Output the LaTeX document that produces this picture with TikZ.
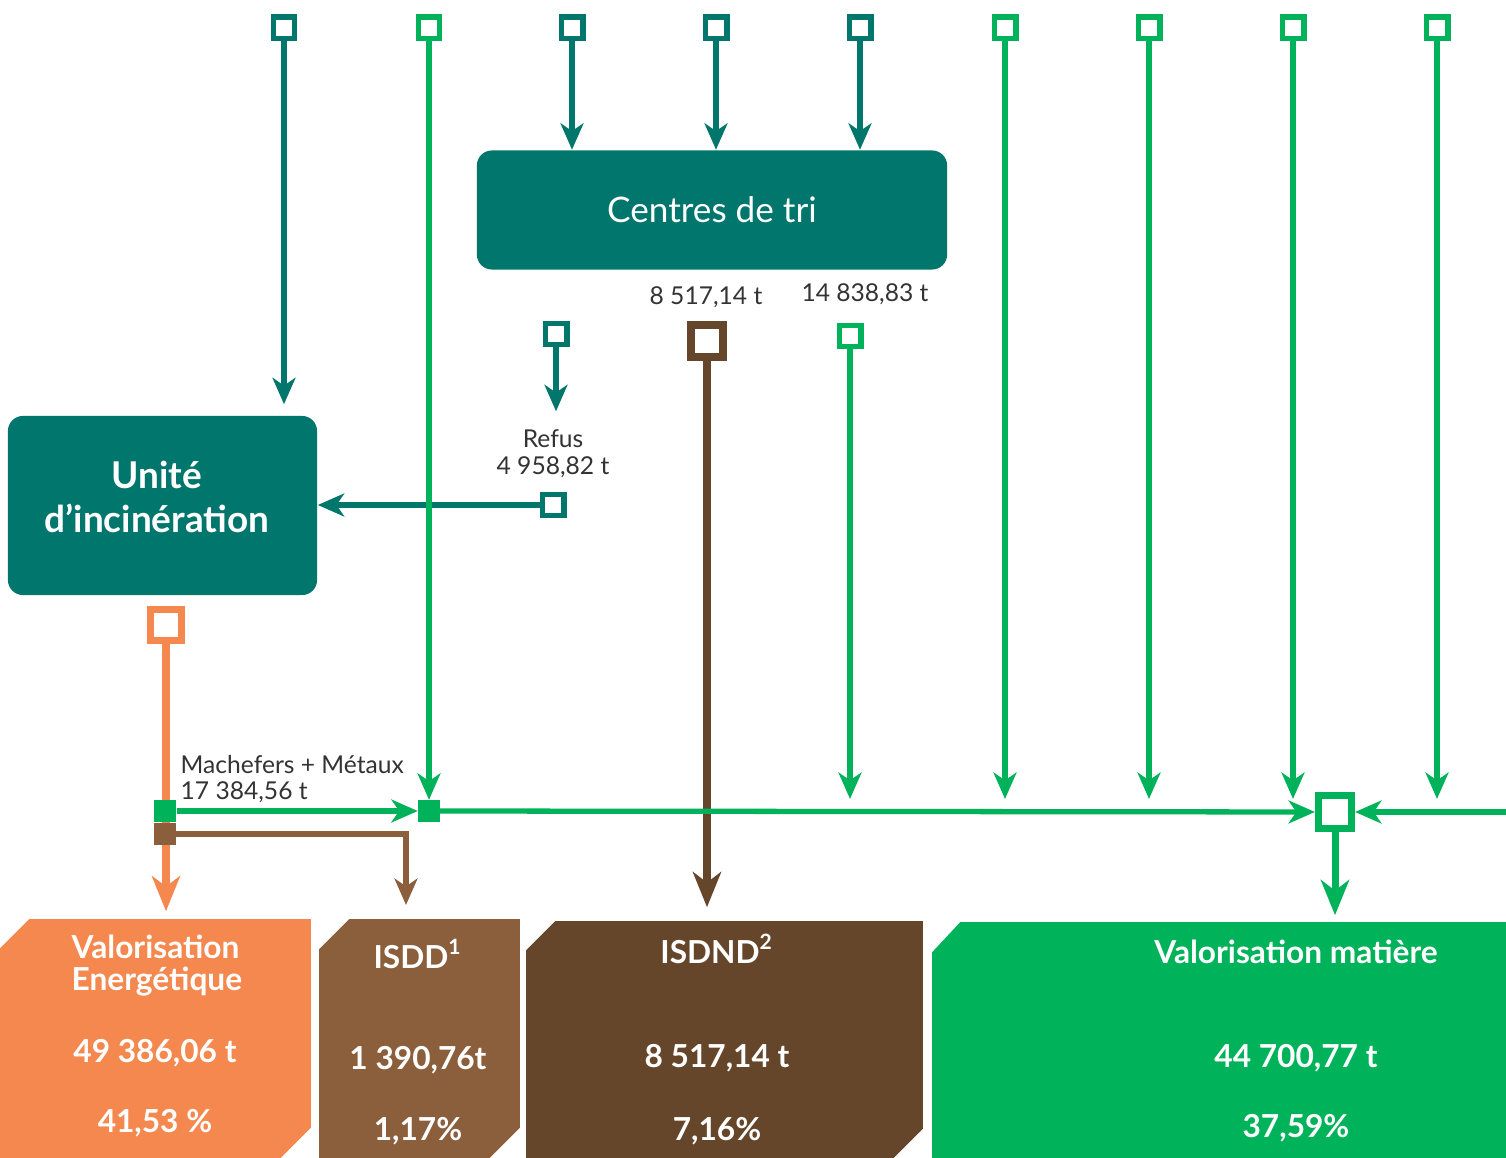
\documentclass[tikz,border=0pt]{standalone}
\usepackage{fontspec}
\setmainfont{Lato}
\usetikzlibrary{arrows.meta}
\definecolor{vert}{RGB}{0,178,89}
\definecolor{canard}{RGB}{0,118,108}
\definecolor{orange}{RGB}{244,136,79}
\definecolor{brunclair}{RGB}{139,94,60}
\definecolor{brunfonce}{RGB}{102,70,42}
\definecolor{gristexte}{RGB}{51,51,51}
% boite a coins coupes (haut gauche, bas droite)
\newcommand*\chanfrein[3]{
	\fill[#2] ([xshift=#3]#1.north west) -- (#1.north east) -- ([yshift=#3]#1.south east)
		-- ([xshift=-#3]#1.south east) -- (#1.south west) -- ([yshift=-#3]#1.north west) -- cycle;}

\begin{document}
\begin{tikzpicture}[x=0.01cm, y=-0.01cm,
		carre/.style={draw=#1, fill=white, minimum size=0.217cm, inner sep=0pt, line width=1.5pt},
		grandcarre/.style={draw=#1, fill=white, minimum size=0.32cm, inner sep=0pt, line width=2.3pt},
		plein/.style={fill=#1, inner sep=0pt, minimum size=0.21cm},
		flux/.style={line width=1.5pt, -{Stealth[length=7.5pt, width=6.5pt, inset=2.2pt]}},
		grosflux/.style={line width=2.2pt, -{Stealth[length=10pt, width=8pt, inset=3pt]}},
		site/.style={rounded corners=0.15cm, fill=canard, inner sep=0pt},
		filiere/.style={inner sep=0pt},
		etiq/.style={text=gristexte, font=\fontsize{7}{8}\selectfont, inner sep=0pt},
		titre/.style={text=white, font=\bfseries\fontsize{9}{11}\selectfont, inner sep=0pt}]
	\useasboundingbox (0,0) rectangle (1506,1158);
	% sites de traitement
	\node[site, minimum width=4.7cm, minimum height=1.19cm, text=white, font=\fontsize{10}{12}\selectfont]
		(tri) at (712,210) {Centres de tri};
	\node[site, minimum width=3.09cm, minimum height=1.79cm] (inc) at (162.5,505.5) {};
	\node[text=white, font=\bfseries\fontsize{10.5}{12.5}\selectfont, align=center, inner sep=0pt]
		(inct) at (157,497) {Unité\\d’incinération};
	% filieres
	\node[filiere, minimum width=3.1cm, minimum height=2.37cm] (energ) at (155,1038.5) {};
	\node[filiere, minimum width=1.99cm, minimum height=2.37cm] (isdd) at (419.5,1038.5) {};
	\node[filiere, minimum width=3.95cm, minimum height=2.35cm] (isdnd) at (724.5,1039.5) {};
	\node[filiere, minimum width=5.73cm, minimum height=2.34cm] (valmat) at (1219.5,1040) {};
	\chanfrein{energ}{orange}{0.3cm}
	\chanfrein{isdd}{brunclair}{0.3cm}
	\chanfrein{isdnd}{brunfonce}{0.29cm}
	\fill[vert] ([xshift=0.28cm]valmat.north west) -- (valmat.north east) -- (valmat.south east)
		-- (valmat.south west) -- ([yshift=-0.3cm]valmat.north west) -- cycle;
	\node[titre, anchor=west] (energa) at (71,947) {Valorisation};
	\node[titre, anchor=west] (energb) at (71,982) {Energétique};
	\node[titre] (energc) at (155,1053) {49 386,06 t};
	\node[titre] (energd) at (155,1123) {41,53 \%};
	\node[titre] (isdda) at (418,954) {ISDD\textsuperscript{1}};
	\node[titre] (isddc) at (418,1060) {1 390,76t};
	\node[titre] (isddd) at (418,1131) {1,17\%};
	\node[titre] (isnda) at (717,949) {ISDND\textsuperscript{2}};
	\node[titre] (isndc) at (717,1058) {8 517,14 t};
	\node[titre] (isndd) at (717,1131) {7,16\%};
	\node[titre] (vala) at (1296,952) {Valorisation matière};
	\node[titre] (valc) at (1296,1058) {44 700,77 t};
	\node[titre] (vald) at (1296,1128) {37,59\%};
	% entrees du haut
	\node[carre=canard] (e1) at (284,28) {};
	\node[carre=vert] (e2) at (429,28) {};
	\node[carre=canard] (e3) at (572,28) {};
	\node[carre=canard] (e4) at (716,28) {};
	\node[carre=canard] (e5) at (860,28) {};
	\node[carre=vert] (e6) at (1005,28) {};
	\node[carre=vert] (e7) at (1149,28) {};
	\node[carre=vert] (e8) at (1293,28) {};
	\node[carre=vert] (e9) at (1437,28) {};
	\coordinate (stop) at (0,799);
	\coordinate (droite) at (1506,812);
	% sorties du tri
	\node[etiq] (lisnd) at (706,297) {8 517,14 t};
	\node[etiq] (lval) at (865,294) {14 838,83 t};
	\node[carre=canard] (r1) at (556,334) {};
	\node[etiq] (lrefus) at (553,439) {Refus};
	\node[etiq] (lrefust) at (553,467) {4 958,82 t};
	\node[carre=canard] (r2) at (553,505) {};
	\node[grandcarre=brunfonce] (s1) at (707,341) {};
	\node[carre=vert] (s2) at (850,336) {};
	\node[grandcarre=orange, minimum size=0.31cm, line width=2.2pt] (s3) at (166,625) {};
	\node[etiq, anchor=west] (lmach) at (180,765) {Machefers + Métaux};
	\node[etiq, anchor=west] (lmacht) at (180,792) {17 384,56 t};
	\coordinate (coude) at (406,905);
	\draw[flux, canard] (e1) -- (e1 |- inc.north) [shorten >=0.11cm];
	\draw[flux, canard] (e3) -- (e3 |- tri.north);
	\draw[flux, canard] (e4) -- (e4 |- tri.north);
	\draw[flux, canard] (e5) -- (e5 |- tri.north);
	\draw[flux, canard] (r1) -- (r1 |- lrefus.north) [shorten >=0.18cm];
	\draw[flux, canard] (r2) -- (inc.east |- r2);
	\draw[grosflux, orange] (s3) -- (s3 |- energ.north) [shorten >=0.08cm];
	\draw[grosflux, brunfonce, line width=2.4pt] (s1) -- (s1 |- isdnd.north) [shorten >=0.14cm];
	\node[plein=brunclair] (pb) at (165,834) {};
	\draw[flux, brunclair] (pb) -| (coude);
	\node[plein=vert, minimum size=0.22cm] (pv) at (165,811) {};
	\node[plein=vert] (j) at (429,811) {};
	\node[grandcarre=vert, minimum size=0.33cm, line width=2pt] (hub) at (1335,812) {};
	\draw[flux, vert] (e2) -- (j);
	\draw[flux, vert] (pv) -- (j);
	\draw[flux, vert] (j) -- (hub);
	\draw[flux, vert] (droite) -- (hub);
	\draw[flux, vert] (s2) -- (s2 |- stop);
	\draw[flux, vert] (e6) -- (e6 |- stop);
	\draw[flux, vert] (e7) -- (e7 |- stop);
	\draw[flux, vert] (e8) -- (e8 |- stop);
	\draw[flux, vert] (e9) -- (e9 |- stop);
	\draw[grosflux, vert, line width=2pt] (hub) -- (hub |- valmat.north) [shorten >=0.07cm];
\end{tikzpicture}
\end{document}
